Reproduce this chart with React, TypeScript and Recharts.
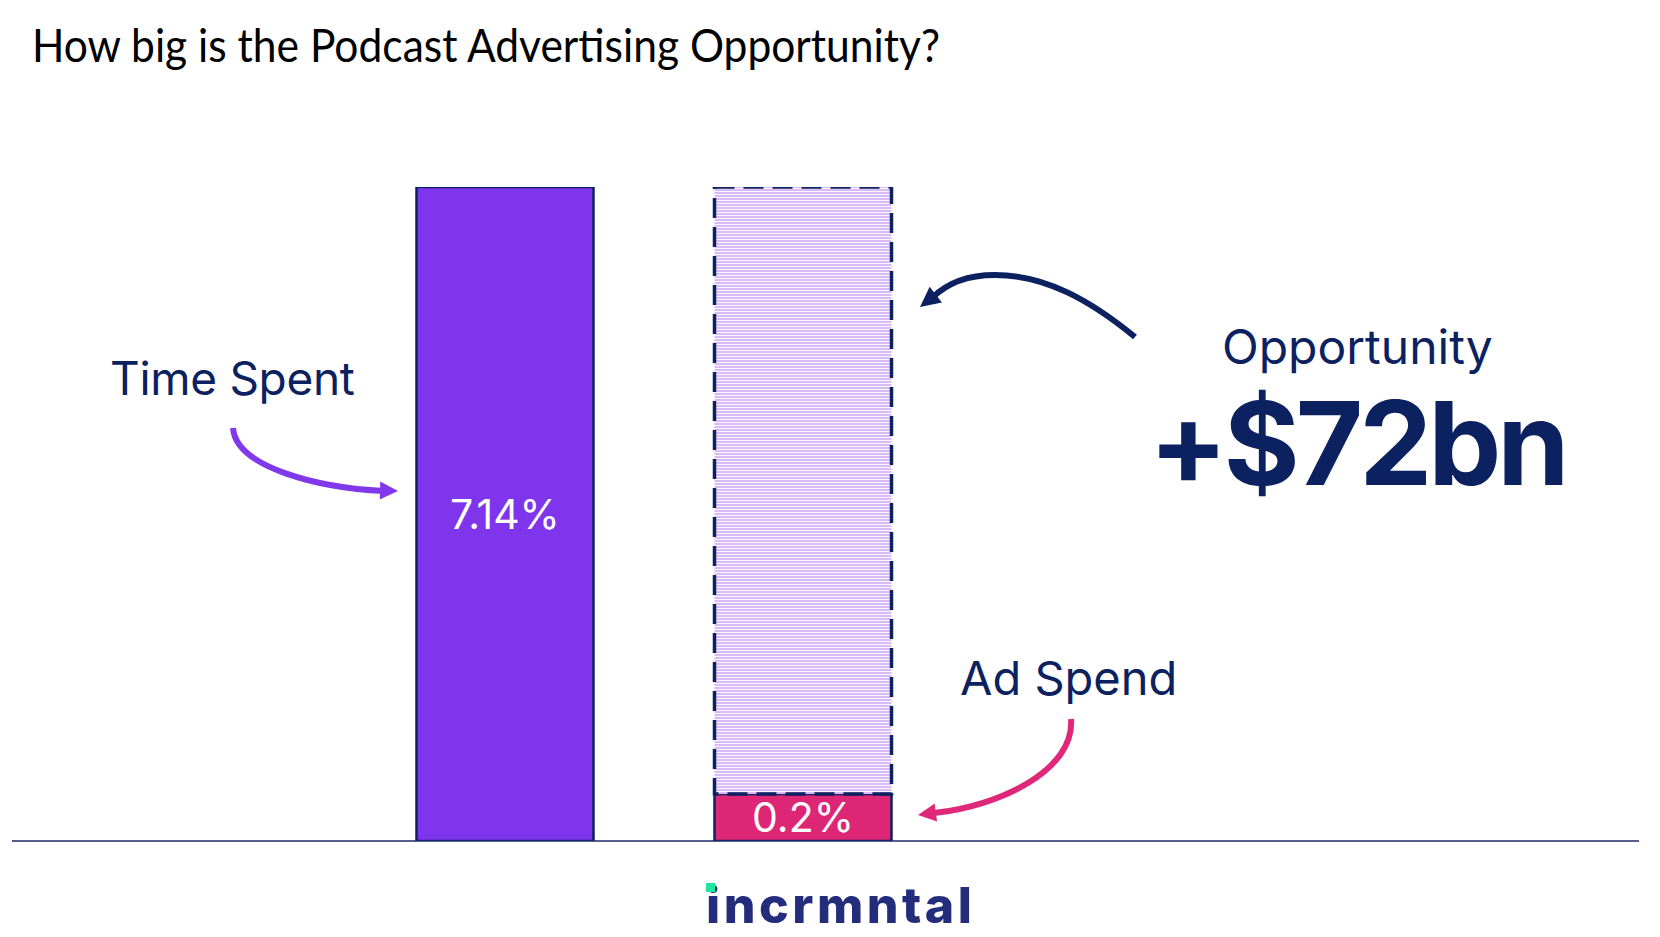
import { Bar, BarChart, Cell, LabelList, XAxis, YAxis } from "recharts";

// share of total US media (time spent vs ad spend), in %
const categories = ["Time Spent", "Ad Spend"];
const shareOfTotal = [7.14, 0.2];
const opportunityRange: ([number, number] | null)[] = [null, [0.2, 7.14]];
const barColors = ["#7f35ec", "#de2677"];
const opportunityText = "+$72bn";

const data = categories.map((name, i) => ({
  name,
  share: shareOfTotal[i],
  opportunity: opportunityRange[i],
}));

// the slide is not drawn to a linear scale: a log axis with this floor
// reproduces the proportions of the two bars
const LOG_FLOOR = 0.1516;

const NAVY = "#0c2160";
const FONT = "Inter, 'Noto Sans', sans-serif";

function arrowHead(tip: [number, number], from: [number, number], len = 18, half = 9) {
  const dx = tip[0] - from[0];
  const dy = tip[1] - from[1];
  const d = Math.hypot(dx, dy) || 1;
  const ux = dx / d;
  const uy = dy / d;
  const bx = tip[0] - ux * len;
  const by = tip[1] - uy * len;
  return `${tip[0]},${tip[1]} ${bx - uy * half},${by + ux * half} ${bx + uy * half},${by - ux * half}`;
}

export default function App() {
  return (
    <div
      style={{
        position: "absolute",
        left: 0,
        top: 0,
        width: 1660,
        height: 937,
        background: "#ffffff",
        overflow: "hidden",
      }}
    >
      <BarChart
        width={1660}
        height={937}
        data={data}
        margin={{ top: 187, right: 21, bottom: 94, left: 12 }}
        barSize={177}
        barGap={-177}
      >
        <XAxis
          dataKey="name"
          tick={false}
          tickLine={false}
          axisLine={{ stroke: "#1b2a6b", strokeWidth: 1.5 }}
          height={2}
          padding={{ left: 343.5, right: 687.5 }}
        />
        <YAxis hide type="number" scale="log" domain={[LOG_FLOOR, 7.14]} allowDataOverflow />
        <Bar dataKey="share" stroke={NAVY} strokeWidth={2.5} isAnimationActive={false}>
          {data.map((d, i) => (
            <Cell key={d.name} fill={barColors[i]} />
          ))}
          <LabelList
            dataKey="share"
            position="center"
            formatter={(v: any) => `${v}%`}
            fill="#ffffff"
            fontSize={41}
            fontFamily={FONT}
          />
        </Bar>
        <Bar
          dataKey="opportunity"
          fill="url(#stripes)"
          stroke={NAVY}
          strokeWidth={3.5}
          strokeDasharray="20 9"
          isAnimationActive={false}
        />
      </BarChart>

      <svg
        width={1660}
        height={937}
        style={{ position: "absolute", left: 0, top: 0, pointerEvents: "none" }}
      >
        <defs>
          <pattern id="stripes" width={8} height={3} patternUnits="userSpaceOnUse">
            <rect width={8} height={3} fill="#fbf7ff" />
            <rect width={8} height={2} fill="#d8bbf7" />
          </pattern>
        </defs>

        <text
          x={32}
          y={62}
          fontFamily="Lato, 'Open Sans', sans-serif"
          fontSize={46}
          fill="#000000"
          textLength={908}
          lengthAdjust="spacingAndGlyphs"
        >
          How big is the Podcast Advertising Opportunity?
        </text>

        {/* Time Spent callout */}
        <text x={110} y={395} fontFamily={FONT} fontSize={46} fill={NAVY} letterSpacing={-0.3}>
          Time Spent
        </text>
        <path
          d="M 233 428 C 236 468, 320 488, 384 491"
          fill="none"
          stroke="#8038ea"
          strokeWidth={6}
        />
        <polygon points={arrowHead([398, 491], [380, 490.5])} fill="#8038ea" />

        {/* Opportunity callout */}
        <path
          d="M 1135 337 C 1090 300, 1045 275, 995 275 C 965 275, 945 285, 932 298"
          fill="none"
          stroke={NAVY}
          strokeWidth={6}
        />
        <polygon points={arrowHead([920, 307], [938, 293], 20, 10)} fill={NAVY} />
        <text x={1222} y={364} fontFamily={FONT} fontSize={48} fill={NAVY}>
          Opportunity
        </text>
        <text
          x={1149}
          y={485}
          fontFamily={FONT}
          fontSize={116}
          fontWeight={700}
          fill={NAVY}
          letterSpacing={-4}
        >
          {opportunityText}
        </text>

        {/* Ad Spend callout */}
        <text x={960} y={695} fontFamily={FONT} fontSize={47} fill={NAVY}>
          Ad Spend
        </text>
        <path
          d="M 1071 719 C 1075 770, 1000 806, 934 813"
          fill="none"
          stroke="#e0287a"
          strokeWidth={6}
        />
        <polygon points={arrowHead([918, 815], [936, 812.5])} fill="#e0287a" />

        {/* logo */}
        <text
          x={706}
          y={923}
          fontFamily={FONT}
          fontSize={50}
          fontWeight={800}
          fill="#232d7c"
          letterSpacing={3.5}
        >
          incrmntal
        </text>
        <rect x={706} y={883} width={9} height={9} fill="#1ee8a0" />
      </svg>
    </div>
  );
}
